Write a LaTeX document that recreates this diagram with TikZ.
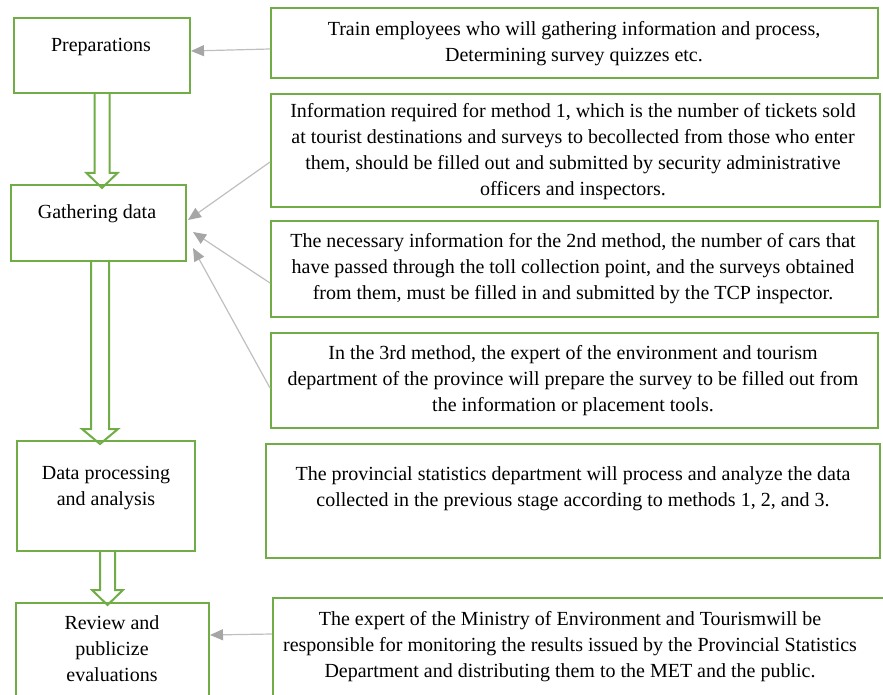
\documentclass[tikz,border=0pt]{standalone}
\usepackage{fontspec}
\setmainfont{Liberation Serif}
\newfontfamily\boxfont{Liberation Serif}
\usetikzlibrary{arrows.meta, calc, positioning}

\definecolor{stagegreen}{HTML}{70AD47}
\definecolor{linkgray}{HTML}{BFBFBF}
\definecolor{tipgray}{HTML}{A6A6A6}

\tikzset{
  box/.style={draw=stagegreen, line width=2pt, inner sep=0pt},
  txt/.style={align=center, inner sep=0pt, font=\boxfont\fontsize{20}{26}\selectfont},
  link/.style={draw=linkgray, line width=1.2pt, -{Triangle[length=13pt,width=11pt,color=tipgray]}},
  flow/.style={draw=stagegreen, line width=2pt, line join=miter},
}

% hollow block arrow: start, tip, half shaft width, half head width
\newcommand{\flowarrow}[4]{%
  \draw[flow] let \p1 = (#1), \p2 = (#2) in
    (\x1-#3,\y1) -- (\x1-#3,\y2+15pt) -- (\x1-#4,\y2+15pt) -- (\x1,\y2)
    -- (\x1+#4,\y2+15pt) -- (\x1+#3,\y2+15pt) -- (\x1+#3,\y1);}

\begin{document}
\begin{tikzpicture}[x=1pt, y=-1pt]
  \clip (0,0) rectangle (883,695);

  % stages
  \node[box, minimum width=176pt, minimum height=75pt] (prep) at (102,55.5) {};
  \node[box, minimum width=175pt, minimum height=76pt] (gather) at (98.5,223) {};
  \node[box, minimum width=178pt, minimum height=110pt] (proc) at (106,496) {};
  \node[box, minimum width=193pt, minimum height=117pt] (review) at (112.5,661.5) {};

  \node[txt] (prepText) at (101,47) {Preparations};
  \node[txt] (gatherText) at (97,214) {Gathering data};
  \node[txt] (procText) at (106,488) {Data processing\\and analysis};
  \node[txt] (reviewText) at (112,649) {Review and\\publicize\\evaluations};

  % descriptions
  \node[box, minimum width=607pt, minimum height=70pt] (train) at (574.5,43) {};
  \node[box, minimum width=609pt, minimum height=113pt] (methodone) at (575.5,150.5) {};
  \node[box, minimum width=607pt, minimum height=96pt] (methodtwo) at (574.5,269) {};
  \node[box, minimum width=607pt, minimum height=95pt] (methodthree) at (574.5,380.5) {};
  \node[box, minimum width=614pt, minimum height=114pt] (analysis) at (573,501) {};
  \node[box, minimum width=627pt, minimum height=122pt] (monitor) at (586.5,659) {};

  \node[txt] (trainText) at (574,44) {Train employees who will gathering information and process,\\Determining survey quizzes etc.};
  \node[txt] (methodoneText) at (573,152) {Information required for method 1, which is the number of tickets sold\\at tourist destinations and surveys to becollected from those who enter\\them, should be filled out and submitted by security administrative\\officers and inspectors.};
  \node[txt] (methodtwoText) at (573,269) {The necessary information for the 2nd method, the number of cars that\\have passed through the toll collection point, and the surveys obtained\\from them, must be filled in and submitted by the TCP inspector.};
  \node[txt] (methodthreeText) at (573,380.5) {In the 3rd method, the expert of the environment and tourism\\department of the province will prepare the survey to be filled out from\\the information or placement tools.};
  \node[txt] (analysisText) at (573,489) {The provincial statistics department will process and analyze the data\\collected in the previous stage according to methods 1, 2, and 3.};
  \node[txt] (monitorText) at (570,646.5) {The expert of the Ministry of Environment and Tourismwill be\\responsible for monitoring the results issued by the Provincial Statistics\\Department and distributing them to the MET and the public.};

  % flow between stages
  \flowarrow{prep.south}{[yshift=-4pt]gather.north}{7.5pt}{15.5pt}
  \flowarrow{[xshift=1.5pt]gather.south}{[yshift=-4pt]proc.north}{9pt}{18pt}
  \flowarrow{[xshift=1.5pt]proc.south}{[yshift=-3pt]review.north}{7.5pt}{15.5pt}

  % descriptions feed the stages
  \draw[link] ([yshift=-6pt]train.west) -- ([yshift=4.5pt]prep.east);
  \draw[link] ([yshift=-11.5pt]methodone.west) -- ([xshift=1pt,yshift=3pt]gather.east);
  \draw[link] ([yshift=-14pt]methodtwo.west) -- ([xshift=6pt,yshift=-9pt]gather.east);
  \draw[link] ([yshift=-7.5pt]methodthree.west) -- ([xshift=6pt,yshift=-25pt]gather.east);
  \draw[link] ([yshift=25pt]monitor.west) -- ([yshift=26.5pt]review.east);
\end{tikzpicture}
\end{document}
